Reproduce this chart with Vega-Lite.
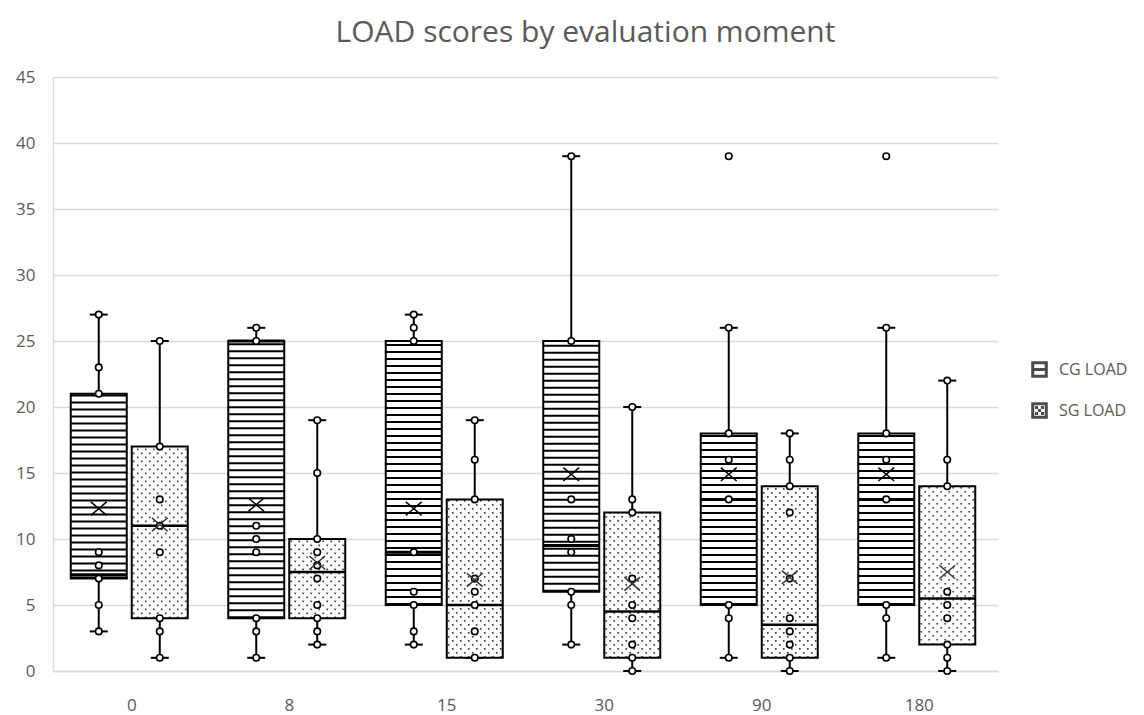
{
  "$schema": "https://vega.github.io/schema/vega-lite/v6.json",
  "autosize": "none",
  "width": 945,
  "height": 594,
  "padding": {"left": 53, "top": 77, "right": 146, "bottom": 44},
  "background": "white",
  "title": {
    "text": "LOAD scores by evaluation moment",
    "font": "Open Sans",
    "fontSize": 30,
    "fontWeight": "normal",
    "color": "#595959",
    "anchor": "middle",
    "frame": "group",
    "offset": 20,
    "dx": 60
  },
  "config": {
    "view": {"stroke": null},
    "axis": {
      "labelFont": "Open Sans",
      "labelFontSize": 17,
      "labelColor": "#595959",
      "gridColor": "#d9d9d9",
      "gridWidth": 1.5,
      "domainColor": "#d9d9d9",
      "domainWidth": 1.5,
      "ticks": false
    },
    "legend": {
      "labelFont": "Open Sans",
      "labelFontSize": 16,
      "labelColor": "#595959"
    }
  },
  "datasets": {
    "summary": [
      {"group": "CG LOAD", "day": "0", "min": 3, "q1": 7, "median": 7.3, "q3": 21, "max": 27, "mean": 12.3},
      {"group": "CG LOAD", "day": "8", "min": 1, "q1": 4, "median": 25, "q3": 25, "max": 26, "mean": 12.6},
      {"group": "CG LOAD", "day": "15", "min": 2, "q1": 5, "median": 9, "q3": 25, "max": 27, "mean": 12.3},
      {"group": "CG LOAD", "day": "30", "min": 2, "q1": 6, "median": 9.5, "q3": 25, "max": 39, "mean": 14.9},
      {"group": "CG LOAD", "day": "90", "min": 1, "q1": 5, "median": 13, "q3": 18, "max": 26, "mean": 14.9},
      {"group": "CG LOAD", "day": "180", "min": 1, "q1": 5, "median": 13, "q3": 18, "max": 26, "mean": 14.9},
      {"group": "SG LOAD", "day": "0", "min": 1, "q1": 4, "median": 11, "q3": 17, "max": 25, "mean": 11.1},
      {"group": "SG LOAD", "day": "8", "min": 2, "q1": 4, "median": 7.5, "q3": 10, "max": 19, "mean": 8.2},
      {"group": "SG LOAD", "day": "15", "min": 1, "q1": 1, "median": 5, "q3": 13, "max": 19, "mean": 6.9},
      {"group": "SG LOAD", "day": "30", "min": 0, "q1": 1, "median": 4.5, "q3": 12, "max": 20, "mean": 6.6},
      {"group": "SG LOAD", "day": "90", "min": 0, "q1": 1, "median": 3.5, "q3": 14, "max": 18, "mean": 7.1},
      {"group": "SG LOAD", "day": "180", "min": 0, "q1": 2, "median": 5.5, "q3": 14, "max": 22, "mean": 7.5}
    ],
    "points": [
      {"group": "CG LOAD", "day": "0", "value": 27}, {"group": "CG LOAD", "day": "0", "value": 23}, {"group": "CG LOAD", "day": "0", "value": 21}, {"group": "CG LOAD", "day": "0", "value": 9}, {"group": "CG LOAD", "day": "0", "value": 8}, {"group": "CG LOAD", "day": "0", "value": 7}, {"group": "CG LOAD", "day": "0", "value": 5}, {"group": "CG LOAD", "day": "0", "value": 3},
      {"group": "CG LOAD", "day": "8", "value": 26}, {"group": "CG LOAD", "day": "8", "value": 25}, {"group": "CG LOAD", "day": "8", "value": 11}, {"group": "CG LOAD", "day": "8", "value": 10}, {"group": "CG LOAD", "day": "8", "value": 9}, {"group": "CG LOAD", "day": "8", "value": 4}, {"group": "CG LOAD", "day": "8", "value": 3}, {"group": "CG LOAD", "day": "8", "value": 1},
      {"group": "CG LOAD", "day": "15", "value": 27}, {"group": "CG LOAD", "day": "15", "value": 26}, {"group": "CG LOAD", "day": "15", "value": 25}, {"group": "CG LOAD", "day": "15", "value": 9}, {"group": "CG LOAD", "day": "15", "value": 6}, {"group": "CG LOAD", "day": "15", "value": 5}, {"group": "CG LOAD", "day": "15", "value": 3}, {"group": "CG LOAD", "day": "15", "value": 2},
      {"group": "CG LOAD", "day": "30", "value": 39}, {"group": "CG LOAD", "day": "30", "value": 25}, {"group": "CG LOAD", "day": "30", "value": 13}, {"group": "CG LOAD", "day": "30", "value": 10}, {"group": "CG LOAD", "day": "30", "value": 9}, {"group": "CG LOAD", "day": "30", "value": 6}, {"group": "CG LOAD", "day": "30", "value": 5}, {"group": "CG LOAD", "day": "30", "value": 2},
      {"group": "CG LOAD", "day": "90", "value": 39}, {"group": "CG LOAD", "day": "90", "value": 26}, {"group": "CG LOAD", "day": "90", "value": 18}, {"group": "CG LOAD", "day": "90", "value": 16}, {"group": "CG LOAD", "day": "90", "value": 13}, {"group": "CG LOAD", "day": "90", "value": 5}, {"group": "CG LOAD", "day": "90", "value": 4}, {"group": "CG LOAD", "day": "90", "value": 1},
      {"group": "CG LOAD", "day": "180", "value": 39}, {"group": "CG LOAD", "day": "180", "value": 26}, {"group": "CG LOAD", "day": "180", "value": 18}, {"group": "CG LOAD", "day": "180", "value": 16}, {"group": "CG LOAD", "day": "180", "value": 13}, {"group": "CG LOAD", "day": "180", "value": 5}, {"group": "CG LOAD", "day": "180", "value": 4}, {"group": "CG LOAD", "day": "180", "value": 1},
      {"group": "SG LOAD", "day": "0", "value": 25}, {"group": "SG LOAD", "day": "0", "value": 17}, {"group": "SG LOAD", "day": "0", "value": 13}, {"group": "SG LOAD", "day": "0", "value": 11}, {"group": "SG LOAD", "day": "0", "value": 9}, {"group": "SG LOAD", "day": "0", "value": 4}, {"group": "SG LOAD", "day": "0", "value": 3}, {"group": "SG LOAD", "day": "0", "value": 1},
      {"group": "SG LOAD", "day": "8", "value": 19}, {"group": "SG LOAD", "day": "8", "value": 15}, {"group": "SG LOAD", "day": "8", "value": 10}, {"group": "SG LOAD", "day": "8", "value": 9}, {"group": "SG LOAD", "day": "8", "value": 8}, {"group": "SG LOAD", "day": "8", "value": 7}, {"group": "SG LOAD", "day": "8", "value": 5}, {"group": "SG LOAD", "day": "8", "value": 4}, {"group": "SG LOAD", "day": "8", "value": 3}, {"group": "SG LOAD", "day": "8", "value": 2},
      {"group": "SG LOAD", "day": "15", "value": 19}, {"group": "SG LOAD", "day": "15", "value": 16}, {"group": "SG LOAD", "day": "15", "value": 13}, {"group": "SG LOAD", "day": "15", "value": 7}, {"group": "SG LOAD", "day": "15", "value": 6}, {"group": "SG LOAD", "day": "15", "value": 5}, {"group": "SG LOAD", "day": "15", "value": 3}, {"group": "SG LOAD", "day": "15", "value": 1},
      {"group": "SG LOAD", "day": "30", "value": 20}, {"group": "SG LOAD", "day": "30", "value": 13}, {"group": "SG LOAD", "day": "30", "value": 12}, {"group": "SG LOAD", "day": "30", "value": 7}, {"group": "SG LOAD", "day": "30", "value": 5}, {"group": "SG LOAD", "day": "30", "value": 4}, {"group": "SG LOAD", "day": "30", "value": 2}, {"group": "SG LOAD", "day": "30", "value": 1}, {"group": "SG LOAD", "day": "30", "value": 0},
      {"group": "SG LOAD", "day": "90", "value": 18}, {"group": "SG LOAD", "day": "90", "value": 16}, {"group": "SG LOAD", "day": "90", "value": 14}, {"group": "SG LOAD", "day": "90", "value": 12}, {"group": "SG LOAD", "day": "90", "value": 7}, {"group": "SG LOAD", "day": "90", "value": 4}, {"group": "SG LOAD", "day": "90", "value": 3}, {"group": "SG LOAD", "day": "90", "value": 2}, {"group": "SG LOAD", "day": "90", "value": 1}, {"group": "SG LOAD", "day": "90", "value": 0},
      {"group": "SG LOAD", "day": "180", "value": 22}, {"group": "SG LOAD", "day": "180", "value": 16}, {"group": "SG LOAD", "day": "180", "value": 14}, {"group": "SG LOAD", "day": "180", "value": 6}, {"group": "SG LOAD", "day": "180", "value": 5}, {"group": "SG LOAD", "day": "180", "value": 4}, {"group": "SG LOAD", "day": "180", "value": 2}, {"group": "SG LOAD", "day": "180", "value": 1}, {"group": "SG LOAD", "day": "180", "value": 0}
    ]
  },
  "layer": [
    {
      "data": {"name": "summary"},
      "mark": {"type": "point", "filled": false, "stroke": "black", "strokeWidth": 3, "size": 150, "xOffset": -33},
      "encoding": {
        "x": {"field": "day", "type": "nominal", "sort": ["0", "8", "15", "30", "90", "180"], "title": null,
              "scale": {"paddingInner": 0, "paddingOuter": 0},
              "axis": {"labelAngle": 0, "grid": false, "domain": true, "labelPadding": 26}},
        "y": {"field": "mean", "type": "quantitative", "title": null,
              "scale": {"domain": [0, 45], "nice": false, "zero": true},
              "axis": {"values": [0, 5, 10, 15, 20, 25, 30, 35, 40, 45], "grid": true, "domain": true, "labelPadding": 18}},
        "shape": {
          "field": "group", "type": "nominal",
          "scale": {"domain": ["CG LOAD", "SG LOAD"],
                    "range": ["M-1,-1H1V1H-1Z M-1,0H1", "M-1,-1H1V1H-1Z M-0.45,-0.45h0.02v0.02h-0.02Z M0.43,-0.45h0.02v0.02h-0.02Z M-0.01,-0.01h0.02v0.02h-0.02Z M-0.45,0.43h0.02v0.02h-0.02Z M0.43,0.43h0.02v0.02h-0.02Z"]},
          "legend": {"title": null, "orient": "none", "legendX": 978, "legendY": 284, "symbolSize": 185, "symbolStrokeWidth": 3, "symbolStrokeColor": "black", "rowPadding": 14, "labelOffset": 11}
        }
      }
    },
    {
      "data": {"name": "summary"},
      "transform": [{"filter": "datum.group === 'CG LOAD'"}],
      "mark": {"type": "rule", "xOffset": -33, "stroke": "black", "strokeWidth": 2},
      "encoding": {
        "x": {"field": "day", "type": "nominal", "sort": ["0", "8", "15", "30", "90", "180"], "title": null},
        "y": {"field": "min", "type": "quantitative", "title": null},
        "y2": {"field": "max"}
      }
    },
    {
      "data": {"name": "summary"},
      "transform": [{"filter": "datum.group === 'SG LOAD'"}],
      "mark": {"type": "rule", "xOffset": 28, "stroke": "black", "strokeWidth": 2},
      "encoding": {
        "x": {"field": "day", "type": "nominal", "sort": ["0", "8", "15", "30", "90", "180"], "title": null},
        "y": {"field": "min", "type": "quantitative", "title": null},
        "y2": {"field": "max"}
      }
    },
    {
      "data": {"name": "summary"},
      "transform": [{"filter": "datum.group === 'CG LOAD'"}],
      "mark": {"type": "tick", "orient": "horizontal", "xOffset": -33, "size": 18, "thickness": 2, "color": "black", "opacity": 1},
      "encoding": {
        "x": {"field": "day", "type": "nominal", "sort": ["0", "8", "15", "30", "90", "180"], "title": null},
        "y": {"field": "min", "type": "quantitative", "title": null}
      }
    },
    {
      "data": {"name": "summary"},
      "transform": [{"filter": "datum.group === 'CG LOAD'"}],
      "mark": {"type": "tick", "orient": "horizontal", "xOffset": -33, "size": 18, "thickness": 2, "color": "black", "opacity": 1},
      "encoding": {
        "x": {"field": "day", "type": "nominal", "sort": ["0", "8", "15", "30", "90", "180"], "title": null},
        "y": {"field": "max", "type": "quantitative", "title": null}
      }
    },
    {
      "data": {"name": "summary"},
      "transform": [{"filter": "datum.group === 'SG LOAD'"}],
      "mark": {"type": "tick", "orient": "horizontal", "xOffset": 28, "size": 18, "thickness": 2, "color": "black", "opacity": 1},
      "encoding": {
        "x": {"field": "day", "type": "nominal", "sort": ["0", "8", "15", "30", "90", "180"], "title": null},
        "y": {"field": "min", "type": "quantitative", "title": null}
      }
    },
    {
      "data": {"name": "summary"},
      "transform": [{"filter": "datum.group === 'SG LOAD'"}],
      "mark": {"type": "tick", "orient": "horizontal", "xOffset": 28, "size": 18, "thickness": 2, "color": "black", "opacity": 1},
      "encoding": {
        "x": {"field": "day", "type": "nominal", "sort": ["0", "8", "15", "30", "90", "180"], "title": null},
        "y": {"field": "max", "type": "quantitative", "title": null}
      }
    },
    {
      "data": {"name": "summary"},
      "transform": [{"filter": "datum.group === 'CG LOAD'"}],
      "mark": {"type": "bar", "xOffset": -33, "width": 56, "fill": "white"},
      "encoding": {
        "x": {"field": "day", "type": "nominal", "sort": ["0", "8", "15", "30", "90", "180"], "title": null},
        "y": {"field": "q1", "type": "quantitative", "title": null},
        "y2": {"field": "q3"}
      }
    },
    {
      "data": {"name": "summary"},
      "transform": [{"filter": "datum.group === 'SG LOAD'"}],
      "mark": {"type": "bar", "xOffset": 28, "width": 56, "fill": "white"},
      "encoding": {
        "x": {"field": "day", "type": "nominal", "sort": ["0", "8", "15", "30", "90", "180"], "title": null},
        "y": {"field": "q1", "type": "quantitative", "title": null},
        "y2": {"field": "q3"}
      }
    },
    {
      "data": {"name": "summary"},
      "transform": [{"filter": "datum.group === 'CG LOAD'"}],
      "mark": {"type": "rule", "xOffset": -33, "stroke": "black", "strokeWidth": 55, "strokeDash": [2, 5]},
      "encoding": {
        "x": {"field": "day", "type": "nominal", "sort": ["0", "8", "15", "30", "90", "180"], "title": null},
        "y": {"field": "q1", "type": "quantitative", "title": null},
        "y2": {"field": "q3"}
      }
    },
    {"data": {"name": "summary"}, "transform": [{"filter": "datum.group === 'SG LOAD'"}],
     "mark": {"type": "rule", "xOffset": 2, "stroke": "#444444", "strokeWidth": 1.7, "strokeDash": [1.7, 6.3], "strokeDashOffset": 4},
     "encoding": {"x": {"field": "day", "type": "nominal", "sort": ["0", "8", "15", "30", "90", "180"], "title": null}, "y": {"field": "q1", "type": "quantitative", "title": null}, "y2": {"field": "q3"}}},
    {"data": {"name": "summary"}, "transform": [{"filter": "datum.group === 'SG LOAD'"}],
     "mark": {"type": "rule", "xOffset": 6, "stroke": "#444444", "strokeWidth": 1.7, "strokeDash": [1.7, 6.3], "strokeDashOffset": 0},
     "encoding": {"x": {"field": "day", "type": "nominal", "sort": ["0", "8", "15", "30", "90", "180"], "title": null}, "y": {"field": "q1", "type": "quantitative", "title": null}, "y2": {"field": "q3"}}},
    {"data": {"name": "summary"}, "transform": [{"filter": "datum.group === 'SG LOAD'"}],
     "mark": {"type": "rule", "xOffset": 10, "stroke": "#444444", "strokeWidth": 1.7, "strokeDash": [1.7, 6.3], "strokeDashOffset": 4},
     "encoding": {"x": {"field": "day", "type": "nominal", "sort": ["0", "8", "15", "30", "90", "180"], "title": null}, "y": {"field": "q1", "type": "quantitative", "title": null}, "y2": {"field": "q3"}}},
    {"data": {"name": "summary"}, "transform": [{"filter": "datum.group === 'SG LOAD'"}],
     "mark": {"type": "rule", "xOffset": 14, "stroke": "#444444", "strokeWidth": 1.7, "strokeDash": [1.7, 6.3], "strokeDashOffset": 0},
     "encoding": {"x": {"field": "day", "type": "nominal", "sort": ["0", "8", "15", "30", "90", "180"], "title": null}, "y": {"field": "q1", "type": "quantitative", "title": null}, "y2": {"field": "q3"}}},
    {"data": {"name": "summary"}, "transform": [{"filter": "datum.group === 'SG LOAD'"}],
     "mark": {"type": "rule", "xOffset": 18, "stroke": "#444444", "strokeWidth": 1.7, "strokeDash": [1.7, 6.3], "strokeDashOffset": 4},
     "encoding": {"x": {"field": "day", "type": "nominal", "sort": ["0", "8", "15", "30", "90", "180"], "title": null}, "y": {"field": "q1", "type": "quantitative", "title": null}, "y2": {"field": "q3"}}},
    {"data": {"name": "summary"}, "transform": [{"filter": "datum.group === 'SG LOAD'"}],
     "mark": {"type": "rule", "xOffset": 22, "stroke": "#444444", "strokeWidth": 1.7, "strokeDash": [1.7, 6.3], "strokeDashOffset": 0},
     "encoding": {"x": {"field": "day", "type": "nominal", "sort": ["0", "8", "15", "30", "90", "180"], "title": null}, "y": {"field": "q1", "type": "quantitative", "title": null}, "y2": {"field": "q3"}}},
    {"data": {"name": "summary"}, "transform": [{"filter": "datum.group === 'SG LOAD'"}],
     "mark": {"type": "rule", "xOffset": 26, "stroke": "#444444", "strokeWidth": 1.7, "strokeDash": [1.7, 6.3], "strokeDashOffset": 4},
     "encoding": {"x": {"field": "day", "type": "nominal", "sort": ["0", "8", "15", "30", "90", "180"], "title": null}, "y": {"field": "q1", "type": "quantitative", "title": null}, "y2": {"field": "q3"}}},
    {"data": {"name": "summary"}, "transform": [{"filter": "datum.group === 'SG LOAD'"}],
     "mark": {"type": "rule", "xOffset": 30, "stroke": "#444444", "strokeWidth": 1.7, "strokeDash": [1.7, 6.3], "strokeDashOffset": 0},
     "encoding": {"x": {"field": "day", "type": "nominal", "sort": ["0", "8", "15", "30", "90", "180"], "title": null}, "y": {"field": "q1", "type": "quantitative", "title": null}, "y2": {"field": "q3"}}},
    {"data": {"name": "summary"}, "transform": [{"filter": "datum.group === 'SG LOAD'"}],
     "mark": {"type": "rule", "xOffset": 34, "stroke": "#444444", "strokeWidth": 1.7, "strokeDash": [1.7, 6.3], "strokeDashOffset": 4},
     "encoding": {"x": {"field": "day", "type": "nominal", "sort": ["0", "8", "15", "30", "90", "180"], "title": null}, "y": {"field": "q1", "type": "quantitative", "title": null}, "y2": {"field": "q3"}}},
    {"data": {"name": "summary"}, "transform": [{"filter": "datum.group === 'SG LOAD'"}],
     "mark": {"type": "rule", "xOffset": 38, "stroke": "#444444", "strokeWidth": 1.7, "strokeDash": [1.7, 6.3], "strokeDashOffset": 0},
     "encoding": {"x": {"field": "day", "type": "nominal", "sort": ["0", "8", "15", "30", "90", "180"], "title": null}, "y": {"field": "q1", "type": "quantitative", "title": null}, "y2": {"field": "q3"}}},
    {"data": {"name": "summary"}, "transform": [{"filter": "datum.group === 'SG LOAD'"}],
     "mark": {"type": "rule", "xOffset": 42, "stroke": "#444444", "strokeWidth": 1.7, "strokeDash": [1.7, 6.3], "strokeDashOffset": 4},
     "encoding": {"x": {"field": "day", "type": "nominal", "sort": ["0", "8", "15", "30", "90", "180"], "title": null}, "y": {"field": "q1", "type": "quantitative", "title": null}, "y2": {"field": "q3"}}},
    {"data": {"name": "summary"}, "transform": [{"filter": "datum.group === 'SG LOAD'"}],
     "mark": {"type": "rule", "xOffset": 46, "stroke": "#444444", "strokeWidth": 1.7, "strokeDash": [1.7, 6.3], "strokeDashOffset": 0},
     "encoding": {"x": {"field": "day", "type": "nominal", "sort": ["0", "8", "15", "30", "90", "180"], "title": null}, "y": {"field": "q1", "type": "quantitative", "title": null}, "y2": {"field": "q3"}}},
    {"data": {"name": "summary"}, "transform": [{"filter": "datum.group === 'SG LOAD'"}],
     "mark": {"type": "rule", "xOffset": 50, "stroke": "#444444", "strokeWidth": 1.7, "strokeDash": [1.7, 6.3], "strokeDashOffset": 4},
     "encoding": {"x": {"field": "day", "type": "nominal", "sort": ["0", "8", "15", "30", "90", "180"], "title": null}, "y": {"field": "q1", "type": "quantitative", "title": null}, "y2": {"field": "q3"}}},
    {"data": {"name": "summary"}, "transform": [{"filter": "datum.group === 'SG LOAD'"}],
     "mark": {"type": "rule", "xOffset": 54, "stroke": "#444444", "strokeWidth": 1.7, "strokeDash": [1.7, 6.3], "strokeDashOffset": 0},
     "encoding": {"x": {"field": "day", "type": "nominal", "sort": ["0", "8", "15", "30", "90", "180"], "title": null}, "y": {"field": "q1", "type": "quantitative", "title": null}, "y2": {"field": "q3"}}},
    {
      "data": {"name": "summary"},
      "transform": [{"filter": "datum.group === 'CG LOAD'"}],
      "mark": {"type": "bar", "xOffset": -33, "width": 56, "fill": "white", "fillOpacity": 0, "stroke": "black", "strokeWidth": 2},
      "encoding": {
        "x": {"field": "day", "type": "nominal", "sort": ["0", "8", "15", "30", "90", "180"], "title": null},
        "y": {"field": "q1", "type": "quantitative", "title": null},
        "y2": {"field": "q3"}
      }
    },
    {
      "data": {"name": "summary"},
      "transform": [{"filter": "datum.group === 'SG LOAD'"}],
      "mark": {"type": "bar", "xOffset": 28, "width": 56, "fill": "white", "fillOpacity": 0, "stroke": "black", "strokeWidth": 2},
      "encoding": {
        "x": {"field": "day", "type": "nominal", "sort": ["0", "8", "15", "30", "90", "180"], "title": null},
        "y": {"field": "q1", "type": "quantitative", "title": null},
        "y2": {"field": "q3"}
      }
    },
    {
      "data": {"name": "summary"},
      "transform": [{"filter": "datum.group === 'CG LOAD'"}],
      "mark": {"type": "tick", "orient": "horizontal", "xOffset": -33, "size": 56, "thickness": 3, "color": "black", "opacity": 1},
      "encoding": {
        "x": {"field": "day", "type": "nominal", "sort": ["0", "8", "15", "30", "90", "180"], "title": null},
        "y": {"field": "median", "type": "quantitative", "title": null}
      }
    },
    {
      "data": {"name": "summary"},
      "transform": [{"filter": "datum.group === 'SG LOAD'"}],
      "mark": {"type": "tick", "orient": "horizontal", "xOffset": 28, "size": 56, "thickness": 2.5, "color": "black", "opacity": 1},
      "encoding": {
        "x": {"field": "day", "type": "nominal", "sort": ["0", "8", "15", "30", "90", "180"], "title": null},
        "y": {"field": "median", "type": "quantitative", "title": null}
      }
    },
    {
      "data": {"name": "points"},
      "transform": [{"filter": "datum.group === 'CG LOAD'"}],
      "mark": {"type": "point", "shape": "circle", "xOffset": -33, "filled": true, "fill": "white", "stroke": "black", "strokeWidth": 1.6, "size": 42, "opacity": 1},
      "encoding": {
        "x": {"field": "day", "type": "nominal", "sort": ["0", "8", "15", "30", "90", "180"], "title": null},
        "y": {"field": "value", "type": "quantitative", "title": null}
      }
    },
    {
      "data": {"name": "points"},
      "transform": [{"filter": "datum.group === 'SG LOAD'"}],
      "mark": {"type": "point", "shape": "circle", "xOffset": 28, "filled": true, "fill": "white", "stroke": "black", "strokeWidth": 1.6, "size": 42, "opacity": 1},
      "encoding": {
        "x": {"field": "day", "type": "nominal", "sort": ["0", "8", "15", "30", "90", "180"], "title": null},
        "y": {"field": "value", "type": "quantitative", "title": null}
      }
    },
    {
      "data": {"name": "summary"},
      "transform": [{"filter": "datum.group === 'CG LOAD'"}],
      "mark": {"type": "point", "shape": "M-1,-0.85L1,0.85M-1,0.85L1,-0.85", "xOffset": -33, "filled": false, "stroke": "black", "strokeWidth": 1.5, "size": 250, "opacity": 1},
      "encoding": {
        "x": {"field": "day", "type": "nominal", "sort": ["0", "8", "15", "30", "90", "180"], "title": null},
        "y": {"field": "mean", "type": "quantitative", "title": null}
      }
    },
    {
      "data": {"name": "summary"},
      "transform": [{"filter": "datum.group === 'SG LOAD'"}],
      "mark": {"type": "point", "shape": "M-1,-0.85L1,0.85M-1,0.85L1,-0.85", "xOffset": 28, "filled": false, "stroke": "#333333", "strokeWidth": 1.5, "size": 250, "opacity": 1},
      "encoding": {
        "x": {"field": "day", "type": "nominal", "sort": ["0", "8", "15", "30", "90", "180"], "title": null},
        "y": {"field": "mean", "type": "quantitative", "title": null}
      }
    }
  ]
}
